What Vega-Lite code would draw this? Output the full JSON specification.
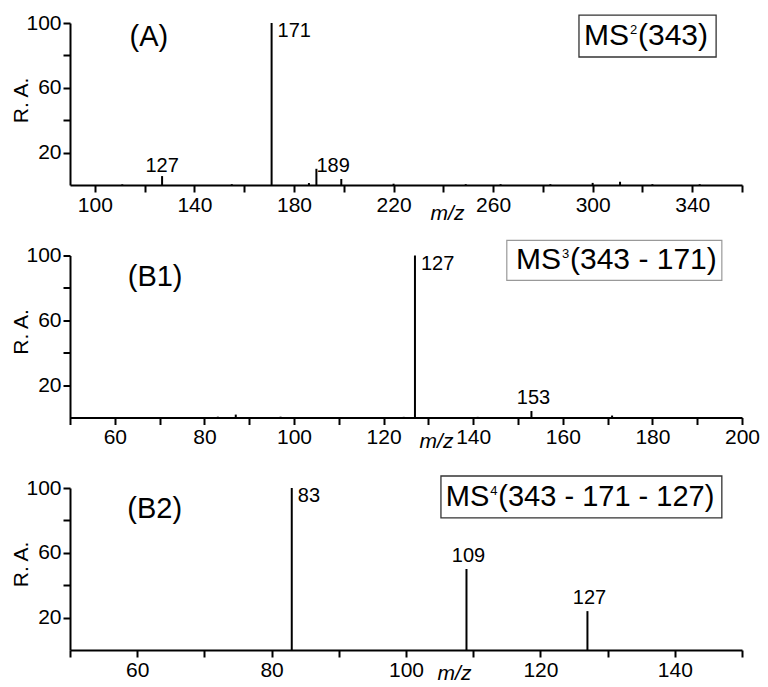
{
  "$schema": "https://vega.github.io/schema/vega-lite/v6.json",
  "background": "white",
  "padding": {"left": 10, "top": 12, "right": 0, "bottom": 0},
  "bounds": "flush",
  "spacing": 70.5,
  "datasets": {
    "peaks": [
      {"panel": "A", "mz": 111, "ra": 0.4},
      {"panel": "A", "mz": 127, "ra": 5.5, "label": "127"},
      {"panel": "A", "mz": 155, "ra": 0.5},
      {"panel": "A", "mz": 171, "ra": 100, "label": "171"},
      {"panel": "A", "mz": 186, "ra": 1.2},
      {"panel": "A", "mz": 189, "ra": 10, "label": "189"},
      {"panel": "A", "mz": 199, "ra": 3.7},
      {"panel": "A", "mz": 220, "ra": 0.8},
      {"panel": "A", "mz": 249, "ra": 0.5},
      {"panel": "A", "mz": 263, "ra": 0.5},
      {"panel": "A", "mz": 283, "ra": 0.5},
      {"panel": "A", "mz": 300, "ra": 1.3},
      {"panel": "A", "mz": 311, "ra": 2},
      {"panel": "A", "mz": 324, "ra": 0.5},
      {"panel": "A", "mz": 343, "ra": 0.5},
      {"panel": "B1", "mz": 83, "ra": 0.5},
      {"panel": "B1", "mz": 87, "ra": 1.8},
      {"panel": "B1", "mz": 97, "ra": 0.5},
      {"panel": "B1", "mz": 124.5, "ra": 0.4},
      {"panel": "B1", "mz": 127, "ra": 100, "label": "127"},
      {"panel": "B1", "mz": 141, "ra": 0.4},
      {"panel": "B1", "mz": 153, "ra": 4, "label": "153"},
      {"panel": "B1", "mz": 171, "ra": 1.2},
      {"panel": "B2", "mz": 83, "ra": 100, "label": "83"},
      {"panel": "B2", "mz": 109, "ra": 50, "label": "109"},
      {"panel": "B2", "mz": 127, "ra": 24, "label": "127"}
    ],
    "notes": [
      {"panel": "A", "tag": "(A)", "ms": "MS", "sup": "2", "rest": "(343)"},
      {"panel": "B1", "tag": "(B1)", "ms": "MS", "sup": "3", "rest": "(343 - 171)"},
      {"panel": "B2", "tag": "(B2)", "ms": "MS", "sup": "4", "rest": "(343 - 171 - 127)"}
    ]
  },
  "config": {
    "view": {"stroke": null},
    "font": "Liberation Sans",
    "axis": {
      "grid": false,
      "domainColor": "black",
      "domainWidth": 2,
      "tickColor": "black",
      "tickWidth": 2,
      "tickSize": 7,
      "labelFont": "Liberation Sans",
      "labelFontSize": 21,
      "labelColor": "black",
      "labelFlush": false,
      "labelBound": false,
      "labelOverlap": false,
      "titleFont": "Liberation Sans",
      "titleFontSize": 21,
      "titleFontWeight": "normal",
      "titleColor": "black"
    },
    "text": {"font": "Liberation Sans", "color": "black"}
  },
  "vconcat": [
    {
      "width": 672,
      "height": 162,
      "layer": [
        {
          "data": {"name": "peaks"},
          "transform": [{"filter": "datum.panel == 'A'"}],
          "mark": {"type": "rule", "color": "black", "strokeWidth": 2},
          "encoding": {
            "x": {"field": "mz", "type": "quantitative",
              "scale": {"domain": [90, 360], "nice": false, "zero": false},
              "axis": {"values": [100,120,140,160,180,200,220,240,260,280,300,320,340,360],
                "labelExpr": "datum.value % 40 == 20 ? datum.label : ''",
                "labelPadding": 2,
                "title": "m/z", "titleFontStyle": "italic", "titleX": 377, "titleY": 28, "titleBaseline": "middle"}},
            "y": {"field": "ra", "type": "quantitative",
              "scale": {"domain": [0, 100], "nice": false},
              "axis": {"values": [20,40,60,80,100],
                "labelExpr": "datum.value % 40 == 20 ? datum.label : ''",
                "labelPadding": 2,
                "title": "R. A.", "titleX": -49, "titleY": 77, "titleBaseline": "middle"}},
            "y2": {"datum": 0}
          }
        },
        {
          "data": {"name": "peaks"},
          "transform": [{"filter": "datum.panel == 'A' && datum.label && datum.ra >= 100"}],
          "mark": {"type": "text", "align": "left", "baseline": "top", "dx": 6, "dy": -2, "fontSize": 20},
          "encoding": {"x": {"field": "mz", "type": "quantitative"}, "y": {"field": "ra", "type": "quantitative"}, "text": {"field": "label"}}
        },
        {
          "data": {"name": "peaks"},
          "transform": [{"filter": "datum.panel == 'A' && datum.label && datum.ra < 100 && datum.label != '189'"}],
          "mark": {"type": "text", "align": "center", "baseline": "alphabetic", "dy": -4, "fontSize": 20},
          "encoding": {"x": {"field": "mz", "type": "quantitative"}, "y": {"field": "ra", "type": "quantitative"}, "text": {"field": "label"}}
        },
        {
          "data": {"name": "peaks"},
          "transform": [{"filter": "datum.panel == 'A' && datum.label == '189'"}],
          "mark": {"type": "text", "align": "left", "baseline": "alphabetic", "dx": 0, "dy": 3, "fontSize": 20},
          "encoding": {"x": {"field": "mz", "type": "quantitative"}, "y": {"field": "ra", "type": "quantitative"}, "text": {"field": "label"}}
        },
        {
          "data": {"name": "notes"},
          "transform": [{"filter": "datum.panel == 'A'"}],
          "mark": {"type": "text", "align": "center", "baseline": "middle", "fontSize": 29},
          "encoding": {"x": {"datum": 121.7, "type": "quantitative"}, "y": {"datum": 91.4, "type": "quantitative"}, "text": {"field": "tag"}}
        },
        {
          "data": {"name": "notes"},
          "transform": [{"filter": "datum.panel == 'A'"}],
          "mark": {"type": "rect", "fill": "transparent", "stroke": "#333333", "strokeWidth": 1.3},
          "encoding": {"x": {"datum": 294.5, "type": "quantitative"}, "x2": {"datum": 349.6}, "y": {"datum": 104.9, "type": "quantitative"}, "y2": {"datum": 79}}
        },
        {
          "data": {"name": "notes"},
          "transform": [{"filter": "datum.panel == 'A'"}],
          "mark": {"type": "text", "align": "right", "baseline": "middle", "fontSize": 30},
          "encoding": {"x": {"datum": 314.6, "type": "quantitative"}, "y": {"datum": 92, "type": "quantitative"}, "text": {"field": "ms"}}
        },
        {
          "data": {"name": "notes"},
          "transform": [{"filter": "datum.panel == 'A'"}],
          "mark": {"type": "text", "align": "left", "baseline": "middle", "fontSize": 13, "dx": 1, "dy": -6},
          "encoding": {"x": {"datum": 314.6, "type": "quantitative"}, "y": {"datum": 92, "type": "quantitative"}, "text": {"field": "sup"}}
        },
        {
          "data": {"name": "notes"},
          "transform": [{"filter": "datum.panel == 'A'"}],
          "mark": {"type": "text", "align": "left", "baseline": "middle", "fontSize": 30, "dx": 9},
          "encoding": {"x": {"datum": 314.6, "type": "quantitative"}, "y": {"datum": 92, "type": "quantitative"}, "text": {"field": "rest"}}
        }
      ]
    },
    {
      "width": 672,
      "height": 162,
      "layer": [
        {
          "data": {"name": "peaks"},
          "transform": [{"filter": "datum.panel == 'B1'"}],
          "mark": {"type": "rule", "color": "black", "strokeWidth": 2},
          "encoding": {
            "x": {"field": "mz", "type": "quantitative",
              "scale": {"domain": [50, 200], "nice": false, "zero": false},
              "axis": {"values": [50,60,70,80,90,100,110,120,130,140,150,160,170,180,190,200],
                "labelExpr": "datum.value % 20 == 0 ? datum.label : ''",
                "labelPadding": 2,
                "title": "m/z", "titleFontStyle": "italic", "titleX": 366, "titleY": 24, "titleBaseline": "middle"}},
            "y": {"field": "ra", "type": "quantitative",
              "scale": {"domain": [0, 100], "nice": false},
              "axis": {"values": [20,40,60,80,100],
                "labelExpr": "datum.value % 40 == 20 ? datum.label : ''",
                "labelPadding": 2,
                "title": "R. A.", "titleX": -49, "titleY": 76, "titleBaseline": "middle"}},
            "y2": {"datum": 0}
          }
        },
        {
          "data": {"name": "peaks"},
          "transform": [{"filter": "datum.panel == 'B1' && datum.label && datum.ra >= 100"}],
          "mark": {"type": "text", "align": "left", "baseline": "top", "dx": 6, "dy": -2, "fontSize": 20},
          "encoding": {"x": {"field": "mz", "type": "quantitative"}, "y": {"field": "ra", "type": "quantitative"}, "text": {"field": "label"}}
        },
        {
          "data": {"name": "peaks"},
          "transform": [{"filter": "datum.panel == 'B1' && datum.label && datum.ra < 100"}],
          "mark": {"type": "text", "align": "center", "baseline": "alphabetic", "dx": 2, "dy": -7, "fontSize": 20},
          "encoding": {"x": {"field": "mz", "type": "quantitative"}, "y": {"field": "ra", "type": "quantitative"}, "text": {"field": "label"}}
        },
        {
          "data": {"name": "notes"},
          "transform": [{"filter": "datum.panel == 'B1'"}],
          "mark": {"type": "text", "align": "center", "baseline": "middle", "fontSize": 29},
          "encoding": {"x": {"datum": 69, "type": "quantitative"}, "y": {"datum": 87, "type": "quantitative"}, "text": {"field": "tag"}}
        },
        {
          "data": {"name": "notes"},
          "transform": [{"filter": "datum.panel == 'B1'"}],
          "mark": {"type": "rect", "fill": "transparent", "stroke": "#999999", "strokeWidth": 1.2},
          "encoding": {"x": {"datum": 147.5, "type": "quantitative"}, "x2": {"datum": 195.5}, "y": {"datum": 109.3, "type": "quantitative"}, "y2": {"datum": 84.6}}
        },
        {
          "data": {"name": "notes"},
          "transform": [{"filter": "datum.panel == 'B1'"}],
          "mark": {"type": "text", "align": "right", "baseline": "middle", "fontSize": 30},
          "encoding": {"x": {"datum": 159.6, "type": "quantitative"}, "y": {"datum": 97, "type": "quantitative"}, "text": {"field": "ms"}}
        },
        {
          "data": {"name": "notes"},
          "transform": [{"filter": "datum.panel == 'B1'"}],
          "mark": {"type": "text", "align": "left", "baseline": "middle", "fontSize": 13, "dx": 1, "dy": -6},
          "encoding": {"x": {"datum": 159.6, "type": "quantitative"}, "y": {"datum": 97, "type": "quantitative"}, "text": {"field": "sup"}}
        },
        {
          "data": {"name": "notes"},
          "transform": [{"filter": "datum.panel == 'B1'"}],
          "mark": {"type": "text", "align": "left", "baseline": "middle", "fontSize": 30, "dx": 9},
          "encoding": {"x": {"datum": 159.6, "type": "quantitative"}, "y": {"datum": 97, "type": "quantitative"}, "text": {"field": "rest"}}
        }
      ]
    },
    {
      "width": 672,
      "height": 162,
      "layer": [
        {
          "data": {"name": "peaks"},
          "transform": [{"filter": "datum.panel == 'B2'"}],
          "mark": {"type": "rule", "color": "black", "strokeWidth": 2},
          "encoding": {
            "x": {"field": "mz", "type": "quantitative",
              "scale": {"domain": [50, 150], "nice": false, "zero": false},
              "axis": {"values": [50,60,70,80,90,100,110,120,130,140,150],
                "labelExpr": "datum.value % 20 == 0 ? datum.label : ''",
                "labelPadding": 2,
                "title": "m/z", "titleFontStyle": "italic", "titleX": 384, "titleY": 23, "titleBaseline": "middle"}},
            "y": {"field": "ra", "type": "quantitative",
              "scale": {"domain": [0, 100], "nice": false},
              "axis": {"values": [20,40,60,80,100],
                "labelExpr": "datum.value % 40 == 20 ? datum.label : ''",
                "labelPadding": 2,
                "title": "R. A.", "titleX": -49, "titleY": 76, "titleBaseline": "middle"}},
            "y2": {"datum": 0}
          }
        },
        {
          "data": {"name": "peaks"},
          "transform": [{"filter": "datum.panel == 'B2' && datum.label && datum.ra >= 100"}],
          "mark": {"type": "text", "align": "left", "baseline": "top", "dx": 6, "dy": -2, "fontSize": 20},
          "encoding": {"x": {"field": "mz", "type": "quantitative"}, "y": {"field": "ra", "type": "quantitative"}, "text": {"field": "label"}}
        },
        {
          "data": {"name": "peaks"},
          "transform": [{"filter": "datum.panel == 'B2' && datum.label && datum.ra < 100"}],
          "mark": {"type": "text", "align": "center", "baseline": "alphabetic", "dx": 2, "dy": -7, "fontSize": 20},
          "encoding": {"x": {"field": "mz", "type": "quantitative"}, "y": {"field": "ra", "type": "quantitative"}, "text": {"field": "label"}}
        },
        {
          "data": {"name": "notes"},
          "transform": [{"filter": "datum.panel == 'B2'"}],
          "mark": {"type": "text", "align": "center", "baseline": "middle", "fontSize": 29},
          "encoding": {"x": {"datum": 62.6, "type": "quantitative"}, "y": {"datum": 87, "type": "quantitative"}, "text": {"field": "tag"}}
        },
        {
          "data": {"name": "notes"},
          "transform": [{"filter": "datum.panel == 'B2'"}],
          "mark": {"type": "rect", "fill": "transparent", "stroke": "#333333", "strokeWidth": 1.3},
          "encoding": {"x": {"datum": 105.2, "type": "quantitative"}, "x2": {"datum": 147}, "y": {"datum": 107.4, "type": "quantitative"}, "y2": {"datum": 81.5}}
        },
        {
          "data": {"name": "notes"},
          "transform": [{"filter": "datum.panel == 'B2'"}],
          "mark": {"type": "text", "align": "right", "baseline": "middle", "fontSize": 29},
          "encoding": {"x": {"datum": 112.4, "type": "quantitative"}, "y": {"datum": 94.4, "type": "quantitative"}, "text": {"field": "ms"}}
        },
        {
          "data": {"name": "notes"},
          "transform": [{"filter": "datum.panel == 'B2'"}],
          "mark": {"type": "text", "align": "left", "baseline": "middle", "fontSize": 13, "dx": 1, "dy": -6},
          "encoding": {"x": {"datum": 112.4, "type": "quantitative"}, "y": {"datum": 94.4, "type": "quantitative"}, "text": {"field": "sup"}}
        },
        {
          "data": {"name": "notes"},
          "transform": [{"filter": "datum.panel == 'B2'"}],
          "mark": {"type": "text", "align": "left", "baseline": "middle", "fontSize": 29, "dx": 9},
          "encoding": {"x": {"datum": 112.4, "type": "quantitative"}, "y": {"datum": 94.4, "type": "quantitative"}, "text": {"field": "rest"}}
        }
      ]
    }
  ]
}
